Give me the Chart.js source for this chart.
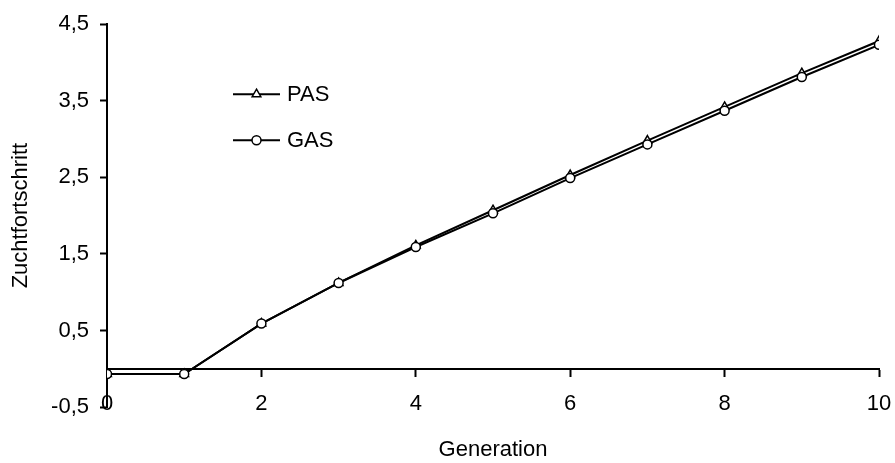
<!DOCTYPE html>
<html lang="de">
<head>
    <meta charset="UTF-8">
    <title>Zuchtfortschritt</title>
    <script src="https://cdn.jsdelivr.net/npm/chart.js"></script>
    <style>
        html, body { margin: 0; padding: 0; background: #fff; }
        #wrap { width: 895px; height: 463px; }
    </style>
</head>
<body>
    <div id="wrap"><canvas id="zfChart"></canvas></div>

    <script>
        // Generationen und Zuchtfortschritt je Verfahren
        const generations = [0, 1, 2, 3, 4, 5, 6, 7, 8, 9, 10];
        const pasValues = [-0.07, -0.07, 0.59, 1.12, 1.61, 2.07, 2.53, 2.98, 3.42, 3.86, 4.28];
        const gasValues = [-0.07, -0.07, 0.59, 1.12, 1.59, 2.03, 2.49, 2.93, 3.37, 3.81, 4.23];
        const xTicks = [0, 2, 4, 6, 8, 10];
        const yTicks = [-0.5, 0.5, 1.5, 2.5, 3.5, 4.5];

        const FONT = { family: "'Liberation Sans', Arial, sans-serif", size: 22 };
        const toPoints = vals => generations.map((g, i) => ({ x: g, y: vals[i] }));
        const fmt = v => v.toFixed(1).replace('.', ',');

        // Legende innerhalb der Zeichenfläche: Linie mit Symbol in der Mitte
        const innerLegend = {
            id: 'innerLegend',
            afterDatasetsDraw(chart) {
                const ctx = chart.ctx;
                const area = chart.chartArea;
                const x0 = area.left + 126, x1 = area.left + 173;
                const rows = [
                    { ds: chart.data.datasets[0], y: area.top + 70 },
                    { ds: chart.data.datasets[1], y: area.top + 116 }
                ];
                ctx.save();
                rows.forEach(r => {
                    ctx.strokeStyle = '#000';
                    ctx.lineWidth = 2;
                    ctx.beginPath();
                    ctx.moveTo(x0, r.y);
                    ctx.lineTo(x1, r.y);
                    ctx.stroke();
                    ctx.fillStyle = '#fff';
                    ctx.lineWidth = r.ds.pointBorderWidth;
                    Chart.helpers.drawPoint(ctx, {
                        pointStyle: r.ds.pointStyle,
                        radius: r.ds.pointRadius,
                        rotation: 0,
                        borderWidth: r.ds.pointBorderWidth
                    }, (x0 + x1) / 2, r.y);
                    ctx.fillStyle = '#000';
                    ctx.font = FONT.size + 'px ' + FONT.family;
                    ctx.textAlign = 'left';
                    ctx.textBaseline = 'middle';
                    ctx.fillText(r.ds.label, x1 + 7, r.y + 1);
                });
                ctx.restore();
            }
        };

        const ctx = document.getElementById('zfChart').getContext('2d');
        const zfChart = new Chart(ctx, {
            type: 'line',
            data: {
                datasets: [{
                    label: 'PAS',
                    data: toPoints(pasValues),
                    borderColor: '#000',
                    borderWidth: 2,
                    pointStyle: 'triangle',
                    pointRadius: 5,
                    pointBorderWidth: 1.5,
                    pointBackgroundColor: '#fff',
                    pointBorderColor: '#000',
                    order: 1
                }, {
                    label: 'GAS',
                    data: toPoints(gasValues),
                    borderColor: '#000',
                    borderWidth: 2,
                    pointStyle: 'circle',
                    pointRadius: 4.5,
                    pointBorderWidth: 1.5,
                    pointBackgroundColor: '#fff',
                    pointBorderColor: '#000',
                    order: 0
                }]
            },
            options: {
                responsive: true,
                maintainAspectRatio: false,
                animation: false,
                events: [],
                layout: { padding: { top: 22, right: 16, left: 0, bottom: 0 } },
                plugins: {
                    legend: { display: false },
                    tooltip: { enabled: false }
                },
                scales: {
                    // nur der Achsentitel unten
                    x: {
                        type: 'linear',
                        position: 'bottom',
                        min: 0,
                        max: 10,
                        afterFit: s => { s.height = 56; },
                        grid: { display: false, drawTicks: false },
                        border: { display: false },
                        ticks: { display: false },
                        title: {
                            display: true,
                            text: 'Generation',
                            color: '#000',
                            font: FONT,
                            padding: { top: 0, bottom: 0 }
                        }
                    },
                    // Achsenlinie bei y = 0 mit Teilstrichen und Beschriftung
                    xZero: {
                        type: 'linear',
                        axis: 'x',
                        position: { y: 0 },
                        min: 0,
                        max: 10,
                        afterBuildTicks: s => { s.ticks = xTicks.map(v => ({ value: v })); },
                        afterFit: s => { s.paddingLeft = 0; s.paddingRight = 0; },
                        grid: {
                            drawOnChartArea: false,
                            drawTicks: true,
                            tickLength: 7,
                            tickWidth: 2,
                            color: '#000'
                        },
                        border: { display: true, color: '#000', width: 2 },
                        ticks: { color: '#000', font: FONT, padding: 15, maxRotation: 0 }
                    },
                    y: {
                        min: -0.5,
                        max: 4.5,
                        afterBuildTicks: s => { s.ticks = yTicks.map(v => ({ value: v })); },
                        afterFit: s => { s.width = 107; },
                        grid: {
                            drawOnChartArea: false,
                            drawTicks: true,
                            tickLength: 7,
                            tickWidth: 2,
                            color: '#000'
                        },
                        border: { display: true, color: '#000', width: 2 },
                        ticks: {
                            color: '#000',
                            font: FONT,
                            padding: 11,
                            callback: v => fmt(v)
                        },
                        title: {
                            display: true,
                            text: 'Zuchtfortschritt',
                            color: '#000',
                            font: FONT,
                            padding: { top: 8, bottom: 0 }
                        }
                    }
                }
            },
            plugins: [innerLegend]
        });
    </script>
</body>
</html>
